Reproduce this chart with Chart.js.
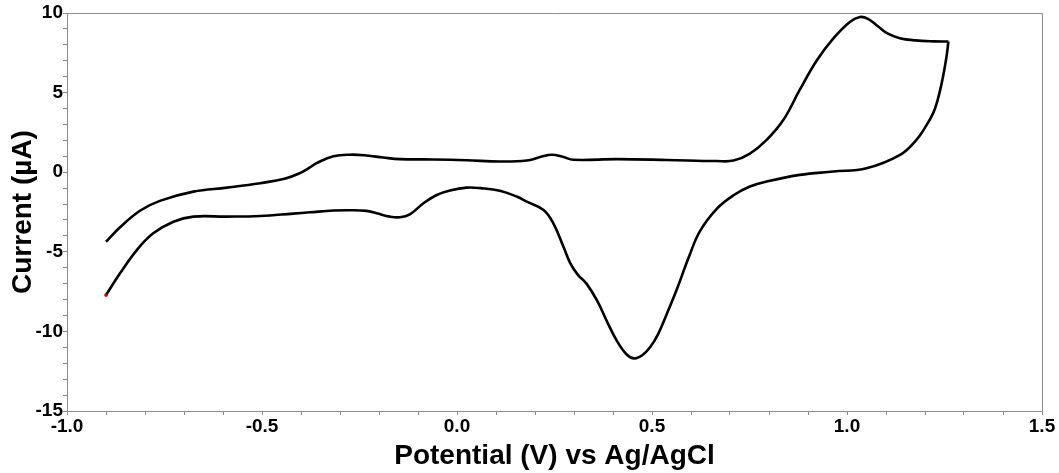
<!DOCTYPE html>
<html>
<head>
<meta charset="utf-8">
<script src="https://cdn.jsdelivr.net/npm/chart.js@4.4.1/dist/chart.umd.min.js"></script>
<style>
  html, body { margin: 0; padding: 0; background: #fff; }
</style>
</head>
<body>
<canvas id="cvChart" width="1059" height="473"></canvas>
<script>
// forward sweep (upper branch), -0.9 V -> 1.26 V
const forwardPotential = [-0.90, -0.864, -0.813, -0.762, -0.676, -0.590, -0.505, -0.44, -0.403, -0.377, -0.36, -0.317, -0.274, -0.232, -0.189, -0.146, -0.061, 0.025, 0.11, 0.179, 0.213, 0.243, 0.273, 0.298, 0.41, 0.538, 0.666, 0.709, 0.751, 0.794, 0.837, 0.879, 0.922, 0.965, 1.008, 1.033, 1.055, 1.08, 1.105, 1.135, 1.175, 1.221, 1.26]
const forwardCurrent = [-4.37, -3.46, -2.42, -1.80, -1.22, -0.97, -0.69, -0.40, -0.06, 0.30, 0.57, 1.00, 1.10, 1.05, 0.92, 0.82, 0.80, 0.75, 0.67, 0.73, 0.95, 1.10, 0.95, 0.78, 0.82, 0.77, 0.70, 0.73, 1.17, 2.03, 3.29, 5.18, 7.0, 8.4, 9.45, 9.75, 9.62, 9.15, 8.70, 8.42, 8.28, 8.22, 8.21]

// reverse sweep (lower branch), 1.26 V -> -0.9 V
const reversePotential = [1.26, 1.256, 1.25, 1.242, 1.232, 1.221, 1.20, 1.178, 1.136, 1.05, 0.965, 0.879, 0.794, 0.751, 0.709, 0.666, 0.623, 0.595, 0.563, 0.538, 0.515, 0.495, 0.475, 0.455, 0.435, 0.41, 0.385, 0.36, 0.332, 0.31, 0.29, 0.273, 0.247, 0.222, 0.179, 0.153, 0.11, 0.06, 0.025, -0.018, -0.052, -0.086, -0.121, -0.146, -0.172, -0.206, -0.232, -0.274, -0.317, -0.377, -0.42, -0.505, -0.590, -0.676, -0.727, -0.779, -0.821, -0.864, -0.90]
const reverseCurrent = [8.21, 7.4, 6.5, 5.5, 4.5, 3.71, 2.8, 2.03, 1.09, 0.25, 0.04, -0.17, -0.59, -0.90, -1.45, -2.3, -3.7, -5.3, -7.4, -8.9, -10.2, -11.0, -11.5, -11.7, -11.45, -10.6, -9.4, -8.1, -7.0, -6.45, -5.7, -4.68, -3.21, -2.37, -1.85, -1.53, -1.16, -1.0, -0.97, -1.15, -1.43, -1.95, -2.65, -2.83, -2.79, -2.58, -2.43, -2.39, -2.41, -2.52, -2.60, -2.75, -2.79, -2.79, -3.11, -3.84, -4.89, -6.35, -7.72]

const xTicks = [-1.0, -0.5, 0.0, 0.5, 1.0, 1.5]
const yTicks = [-15, -10, -5, 0, 5, 10]

const forward = forwardPotential.map((v, i) => ({ x: v, y: forwardCurrent[i] }))
const reverse = reversePotential.map((v, i) => ({ x: v, y: reverseCurrent[i] }))

const axisGray = '#8c8c8c'
const tickFont = { family: 'Liberation Sans, Arial, sans-serif', size: 19, weight: 'bold' }
const titleFont = { family: 'Liberation Sans, Arial, sans-serif', size: 28, weight: 'bold' }

const isMajor = (v, list) => list.some(t => Math.abs(t - v) < 1e-6)

// grey box round the plot
const frame = {
    id: 'frame',
    afterDraw(chart) {
        const { ctx, chartArea: a } = chart
        ctx.save()
        ctx.strokeStyle = axisGray
        ctx.lineWidth = 1
        ctx.beginPath()
        ctx.moveTo(a.left, a.top + 0.5)
        ctx.lineTo(a.right + 0.5, a.top + 0.5)
        ctx.lineTo(a.right + 0.5, a.bottom)
        ctx.stroke()
        ctx.restore()
    }
}

const lineStyle = {
    showLine: true,
    borderColor: '#000',
    borderWidth: 2.6,
    tension: 0.4,
    pointRadius: 0
}

new Chart(document.getElementById('cvChart'), {
    type: 'scatter',
    data: {
        datasets: [
            { ...lineStyle, data: forward },
            {
                ...lineStyle,
                data: reverse,
                pointRadius: reverse.map((p, i) => i === reverse.length - 1 ? 1.8 : 0),
                pointBackgroundColor: '#d00000',
                pointBorderWidth: 0
            }
        ]
    },
    options: {
        responsive: false,
        animation: false,
        layout: { padding: { left: 0, top: 13, right: 17, bottom: 0 } },
        plugins: { legend: { display: false }, tooltip: { enabled: false } },
        scales: {
            x: {
                type: 'linear',
                min: -1,
                max: 1.5,
                afterFit: s => { s.height = 62 },
                ticks: {
                    stepSize: 0.1,
                    autoSkip: false,
                    maxRotation: 0,
                    padding: 0,
                    color: '#000',
                    font: tickFont,
                    callback: v => isMajor(v, xTicks) ? v.toFixed(1) : ''
                },
                grid: { drawOnChartArea: false, tickLength: 4, color: axisGray },
                border: { color: axisGray },
                title: { display: true, text: 'Potential (V) vs Ag/AgCl', color: '#000', font: titleFont, padding: { top: 0, bottom: 0 } }
            },
            y: {
                min: -15,
                max: 10,
                afterFit: s => { s.width = 67 },
                ticks: {
                    stepSize: 1,
                    autoSkip: false,
                    padding: 0,
                    color: '#000',
                    font: tickFont,
                    callback: v => isMajor(v, yTicks) ? String(v) : ''
                },
                grid: { drawOnChartArea: false, tickLength: 4, color: axisGray },
                border: { color: axisGray },
                title: { display: true, text: 'Current (µA)', color: '#000', font: titleFont, padding: { top: 6, bottom: 0 } }
            }
        }
    },
    plugins: [frame]
})
</script>
</body>
</html>
